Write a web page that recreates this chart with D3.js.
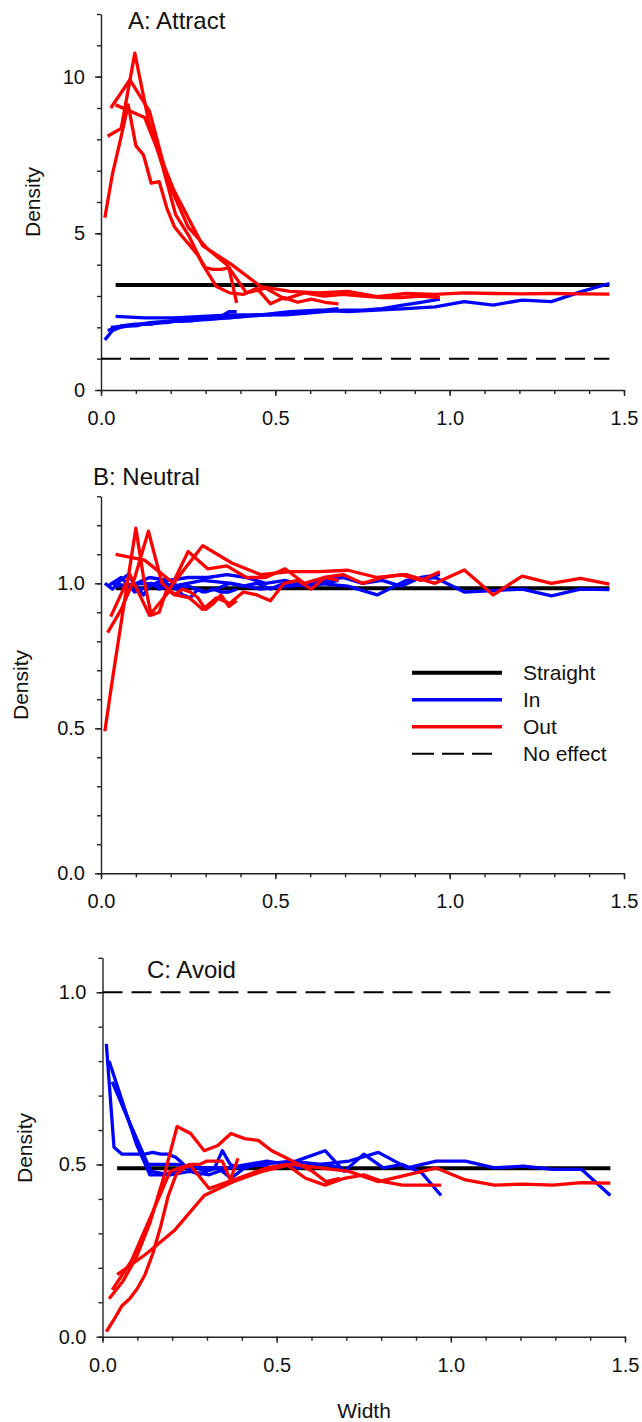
<!DOCTYPE html>
<html>
<head>
<meta charset="utf-8">
<script src="https://cdn.jsdelivr.net/npm/d3@7"></script>
<style>
  body { margin: 0; background: #fff; }
  svg { display: block; }
  text { font-family: "Liberation Sans", Arial, sans-serif; fill: #111; }
</style>
</head>
<body>
<div id="chart"></div>
<script>
// bin centres along the transect for each of the four widths
const xW04 = [0.011, 0.033, 0.056, 0.078, 0.100, 0.122, 0.144, 0.167, 0.189, 0.211, 0.233, 0.256, 0.278, 0.300, 0.322, 0.344, 0.367, 0.389];
const xW07 = [0.019, 0.058, 0.097, 0.136, 0.175, 0.214, 0.253, 0.292, 0.331, 0.369, 0.408, 0.447, 0.486, 0.525, 0.564, 0.603, 0.642, 0.681];
const xW10 = [0.028, 0.083, 0.139, 0.194, 0.250, 0.306, 0.361, 0.417, 0.472, 0.528, 0.583, 0.639, 0.694, 0.750, 0.806, 0.861, 0.917, 0.972];
const xW15 = [0.042, 0.125, 0.208, 0.292, 0.375, 0.458, 0.542, 0.625, 0.708, 0.792, 0.875, 0.958, 1.042, 1.125, 1.208, 1.292, 1.375, 1.458];

const straightRange = [0.042, 1.458];
const noEffectRange = [0, 1.458];
const noEffect = 1.0;

const xTicks = [0, 0.5, 1.0, 1.5];
const xMinor = [0, 0.1, 0.2, 0.3, 0.4, 0.5, 0.6, 0.7, 0.8, 0.9, 1.0, 1.1, 1.2, 1.3, 1.4, 1.5];

const legendNames = ["Straight", "In", "Out", "No effect"];

// A: Attract
const attractStraight = 3.35;
const attractIn04 = [1.6, 1.9, 2.0, 2.05, 2.05, 2.1, 2.1, 2.15, 2.15, 2.2, 2.2, 2.25, 2.25, 2.3, 2.3, 2.35, 2.5, 2.5];
const attractIn07 = [1.9, 2.05, 2.1, 2.1, 2.15, 2.2, 2.2, 2.25, 2.3, 2.3, 2.35, 2.4, 2.4, 2.45, 2.45, 2.5, 2.55, 2.6];
const attractIn10 = [2.0, 2.05, 2.15, 2.2, 2.25, 2.25, 2.3, 2.35, 2.4, 2.4, 2.45, 2.5, 2.55, 2.55, 2.6, 2.7, 2.8, 2.9];
const attractIn15 = [2.35, 2.3, 2.3, 2.35, 2.4, 2.4, 2.5, 2.55, 2.5, 2.55, 2.6, 2.65, 2.82, 2.71, 2.87, 2.82, 3.13, 3.4];
const attractOut04 = [5.5, 6.9, 8.0, 9.1, 7.8, 7.5, 6.6, 6.65, 5.8, 5.2, 4.9, 4.6, 4.3, 3.9, 3.85, 3.85, 3.9, 2.78];
const attractOut07 = [8.1, 8.35, 10.75, 8.6, 7.2, 5.6, 4.9, 4.0, 3.3, 3.1, 3.05, 3.25, 2.75, 2.95, 2.8, 2.9, 2.8, 2.75];
const attractOut10 = [9.0, 9.9, 8.9, 6.6, 5.2, 4.5, 4.0, 3.1, 3.25, 2.9, 3.1, 3.0, 3.05, 3.0, 2.95, 2.95, 3.0, 2.95];
const attractOut15 = [9.1, 8.7, 6.4, 4.6, 4.0, 3.3, 3.15, 3.1, 3.15, 2.98, 3.08, 3.05, 3.1, 3.08, 3.07, 3.08, 3.07, 3.06];
const attractTicks = [0, 5, 10];
const attractMinor = [0, 1, 2, 3, 4, 5, 6, 7, 8, 9, 10, 11, 12];

// B: Neutral
const neutralStraight = 0.983;
const neutralIn04 = [1.0, 0.98, 1.01, 1.03, 0.99, 0.96, 1.0, 0.98, 0.99, 1.0, 0.96, 0.95, 0.98, 0.97, 0.98, 0.97, 0.97, 0.98];
const neutralIn07 = [0.99, 1.02, 0.97, 0.99, 1.01, 0.98, 0.99, 0.97, 0.98, 1.0, 0.99, 1.0, 0.98, 1.0, 1.0, 0.99, 1.0, 1.01];
const neutralIn10 = [1.0, 0.99, 1.02, 1.01, 1.02, 1.02, 1.03, 1.02, 1.0, 1.01, 0.99, 1.01, 1.02, 1.0, 1.01, 0.99, 1.02, 1.03];
const neutralIn15 = [0.99, 1.0, 0.99, 1.01, 1.0, 0.98, 0.99, 1.0, 0.99, 0.96, 1.01, 1.02, 0.97, 0.975, 0.98, 0.957, 0.98, 0.978];
const neutralOut04 = [0.49, 0.67, 0.85, 1.02, 1.19, 1.02, 0.89, 0.90, 0.98, 0.96, 0.98, 0.97, 0.95, 0.91, 0.93, 0.96, 0.92, 0.94];
const neutralOut07 = [0.83, 0.91, 1.02, 1.18, 1.0, 0.96, 0.95, 0.91, 0.95, 0.93, 0.97, 0.96, 0.94, 1.0, 1.01, 0.98, 1.02, 1.01];
const neutralOut10 = [0.885, 1.03, 0.89, 0.97, 1.11, 1.05, 1.06, 1.02, 1.02, 1.05, 1.0, 1.02, 1.03, 1.0, 1.02, 1.03, 1.01, 1.04];
const neutralOut15 = [1.10, 1.08, 1.0, 1.13, 1.07, 1.03, 1.04, 1.04, 1.045, 1.02, 1.03, 1.0, 1.046, 0.96, 1.025, 1.0, 1.017, 0.997];
const neutralTicks = [0, 0.5, 1.0];
const neutralMinor = [0, 0.1, 0.2, 0.3, 0.4, 0.5, 0.6, 0.7, 0.8, 0.9, 1.0, 1.1, 1.2, 1.3];

// C: Avoid
const avoidStraight = 0.489;
const avoidIn04 = [0.85, 0.55, 0.53, 0.53, 0.53, 0.53, 0.535, 0.53, 0.53, 0.52, 0.50, 0.48, 0.47, 0.48, 0.49, 0.54, 0.50, 0.49];
const avoidIn07 = [0.80, 0.68, 0.56, 0.47, 0.47, 0.48, 0.50, 0.48, 0.49, 0.46, 0.49, 0.50, 0.49, 0.50, 0.49, 0.50, 0.50, 0.49];
const avoidIn10 = [0.74, 0.61, 0.48, 0.47, 0.48, 0.47, 0.49, 0.50, 0.51, 0.50, 0.52, 0.54, 0.48, 0.53, 0.49, 0.50, 0.475, 0.41];
const avoidIn15 = [0.71, 0.50, 0.50, 0.49, 0.49, 0.50, 0.51, 0.50, 0.51, 0.535, 0.49, 0.51, 0.51, 0.49, 0.495, 0.486, 0.486, 0.41];
const avoidOut04 = [0.015, 0.05, 0.09, 0.11, 0.14, 0.18, 0.24, 0.32, 0.41, 0.47, 0.49, 0.50, 0.50, 0.51, 0.51, 0.51, 0.455, 0.518];
const avoidOut07 = [0.11, 0.16, 0.23, 0.33, 0.46, 0.61, 0.59, 0.54, 0.555, 0.59, 0.575, 0.57, 0.54, 0.52, 0.50, 0.48, 0.45, 0.46];
const avoidOut10 = [0.136, 0.22, 0.35, 0.48, 0.50, 0.43, 0.45, 0.47, 0.49, 0.50, 0.46, 0.44, 0.46, 0.47, 0.45, 0.44, 0.44, 0.44];
const avoidOut15 = [0.18, 0.24, 0.31, 0.41, 0.45, 0.48, 0.50, 0.49, 0.48, 0.45, 0.47, 0.49, 0.455, 0.44, 0.443, 0.44, 0.447, 0.446];
const avoidTicks = [0, 0.5, 1.0];
const avoidMinor = [0, 0.1, 0.2, 0.3, 0.4, 0.5, 0.6, 0.7, 0.8, 0.9, 1.0, 1.1];

const xsByWidth = [xW04, xW07, xW10, xW15];

const W = 642, H = 1422;
const color = { Straight: "#000000", In: "#0000ff", Out: "#ff0000" };
const dash = "20,9";

const panels = [
  { title: "A: Attract", tx: 128, ty: 29, lx: 32, ly: 202,
    xr: [101, 624], yr: [390, 14], yd: [0, 12], ticks: attractTicks, minor: attractMinor, fmt: d3.format("d"),
    straight: attractStraight, ins: [attractIn04, attractIn07, attractIn10, attractIn15],
    outs: [attractOut04, attractOut07, attractOut10, attractOut15], dashed: true },
  { title: "B: Neutral", tx: 93, ty: 485, lx: 20, ly: 685,
    xr: [101, 624], yr: [873.3, 496.3], yd: [0, 1.3], ticks: neutralTicks, minor: neutralMinor, fmt: d3.format(".1f"),
    straight: neutralStraight, ins: [neutralIn04, neutralIn07, neutralIn10, neutralIn15],
    outs: [neutralOut04, neutralOut07, neutralOut10, neutralOut15], legend: true, dashed: false },
  { title: "C: Avoid", tx: 147, ty: 978, lx: 24, ly: 1148,
    xr: [102.5, 625], yr: [1336.7, 957.8], yd: [0, 1.1], ticks: avoidTicks, minor: avoidMinor, fmt: d3.format(".1f"),
    straight: avoidStraight, ins: [avoidIn04, avoidIn07, avoidIn10, avoidIn15],
    outs: [avoidOut04, avoidOut07, avoidOut10, avoidOut15], dashed: true }
];

const svg = d3.select("#chart").append("svg")
  .attr("width", W).attr("height", H);

panels.forEach(p => {
  const x = d3.scaleLinear().domain([0, 1.5]).range(p.xr);
  const y = d3.scaleLinear().domain(p.yd).range(p.yr);
  const g = svg.append("g");
  const y0 = p.yr[0];
  const x0 = p.xr[0];

  // axes: minor ticks first, then labelled majors
  g.append("g").attr("transform", `translate(0,${y0})`)
    .call(d3.axisBottom(x).tickValues(xMinor).tickSize(4).tickFormat(""))
    .call(a => a.select(".domain").remove());
  g.append("g").attr("transform", `translate(0,${y0})`)
    .call(d3.axisBottom(x).tickValues(xTicks).tickSize(6).tickSizeOuter(0).tickPadding(15).tickFormat(d3.format(".1f")))
    .attr("font-size", 20);
  g.append("g").attr("transform", `translate(${x0},0)`)
    .call(d3.axisLeft(y).tickValues(p.minor).tickSize(4).tickFormat(""))
    .call(a => a.select(".domain").remove());
  g.append("g").attr("transform", `translate(${x0},0)`)
    .call(d3.axisLeft(y).tickValues(p.ticks).tickSize(6).tickSizeOuter(0).tickPadding(10).tickFormat(p.fmt))
    .attr("font-size", 20);
  g.selectAll(".domain, .tick line").attr("stroke", "#222").attr("stroke-width", 1.4);
  g.selectAll(".tick text").attr("fill", "#111");

  g.append("text").attr("x", p.tx).attr("y", p.ty)
    .attr("font-size", 24).text(p.title);
  g.append("text")
    .attr("transform", `translate(${p.lx},${p.ly}) rotate(-90)`)
    .attr("text-anchor", "middle").attr("dominant-baseline", "central")
    .attr("font-size", 21).text("Density");

  const line = d3.line().x(d => x(d[0])).y(d => y(d[1]));

  if (p.dashed) {
    g.append("path")
      .attr("d", line(noEffectRange.map(v => [v, noEffect])))
      .attr("fill", "none").attr("stroke", "#000").attr("stroke-width", 2)
      .attr("stroke-dasharray", dash);
  }
  g.append("path")
    .attr("d", line(straightRange.map(v => [v, p.straight])))
    .attr("fill", "none").attr("stroke", color.Straight).attr("stroke-width", 4);

  const series = [
    ...p.ins.map((ys, i) => ({ kind: "In", pts: d3.zip(xsByWidth[i], ys) })),
    ...p.outs.map((ys, i) => ({ kind: "Out", pts: d3.zip(xsByWidth[i], ys) }))
  ];
  g.selectAll("path.series").data(series).enter().append("path")
    .attr("class", "series")
    .attr("d", d => line(d.pts))
    .attr("fill", "none")
    .attr("stroke", d => color[d.kind])
    .attr("stroke-width", 3.3)
    .attr("stroke-linejoin", "round");

  if (p.legend) {
    const lg = g.append("g");
    legendNames.forEach((name, i) => {
      const ry = 672.7 + i * 27;
      const l = lg.append("line").attr("x1", 412).attr("x2", i === 3 ? 492 : 502)
        .attr("y1", ry).attr("y2", ry);
      if (i === 3) l.attr("stroke", "#000").attr("stroke-width", 2).attr("stroke-dasharray", "22,8");
      else l.attr("stroke", color[name]).attr("stroke-width", i === 0 ? 4 : 3.5);
      lg.append("text").attr("x", 523).attr("y", ry)
        .attr("dominant-baseline", "central").attr("font-size", 21).text(name);
    });
  }
});

svg.append("text").attr("x", 364).attr("y", 1410)
  .attr("text-anchor", "middle").attr("dominant-baseline", "central")
  .attr("font-size", 21).text("Width");
</script>
</body>
</html>
